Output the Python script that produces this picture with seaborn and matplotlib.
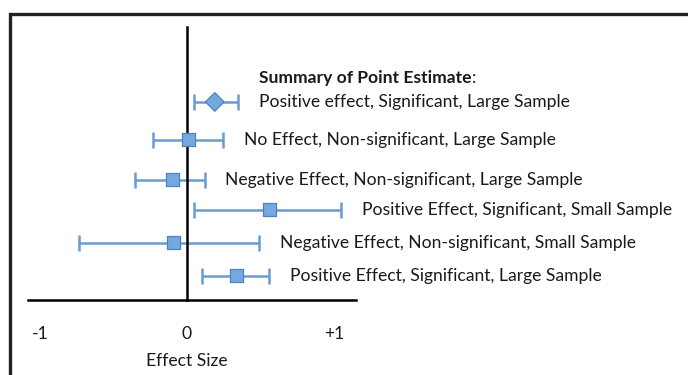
import matplotlib
matplotlib.use("Agg")
import matplotlib.pyplot as plt
import seaborn as sns
import pandas as pd
from matplotlib.patches import Rectangle

# Study summaries, listed top to bottom
labels = [
    "Positive effect, Significant, Large Sample",
    "No Effect, Non-significant, Large Sample",
    "Negative Effect, Non-significant, Large Sample",
    "Positive Effect, Significant, Small Sample",
    "Negative Effect, Non-significant, Small Sample",
    "Positive Effect, Significant, Large Sample",
]
estimate = [0.19, 0.01, -0.10, 0.56, -0.09, 0.34]
ci_low = [0.05, -0.23, -0.35, 0.05, -0.73, 0.10]
ci_high = [0.35, 0.245, 0.12, 1.05, 0.49, 0.56]
row_pos = [6.0, 4.85, 3.64, 2.73, 1.73, 0.73]
kind = ["summary", "study", "study", "study", "study", "study"]

tick_values = [-1, 0, 1]
tick_labels = ["-1", "0", "+1"]

df = pd.DataFrame({"label": labels, "est": estimate, "lo": ci_low,
                   "hi": ci_high, "row": row_pos, "kind": kind})

sns.set_theme(style="white")
plt.rcParams["font.family"] = ["Lato", "DejaVu Sans"]
FS = 12.6
TXT = "#1a1a1a"

fig = plt.figure(figsize=(6.88, 3.75), dpi=100)
ax = fig.add_axes([28 / 688, 0.2, 328 / 688, 273 / 375])

bar_color = "#6a9bd0"
face_color = "#74a9e0"
edge_color = "#4f81bd"

ax.errorbar(df["est"], df["row"],
            xerr=[df["est"] - df["lo"], df["hi"] - df["est"]],
            fmt="none", ecolor=bar_color, elinewidth=1.8, capsize=6,
            capthick=1.8, zorder=2)

sns.scatterplot(data=df, x="est", y="row", style="kind",
                markers={"summary": "D", "study": "s"},
                s=90, color=face_color, edgecolor=edge_color, linewidth=0.9,
                legend=False, ax=ax, zorder=3)

for _, r in df.iterrows():
    ax.annotate(r["label"], xy=(r["hi"], r["row"]), xytext=(15, 0),
                textcoords="offset points", va="center", ha="left",
                fontsize=FS, color=TXT, annotation_clip=False)

title = ax.annotate("Summary of Point Estimate", xy=(ci_high[0], row_pos[0]),
                    xytext=(15, 17.5), textcoords="offset points",
                    va="center", ha="left", fontsize=FS, fontweight="bold",
                    color=TXT, annotation_clip=False)

ax.set_xlim(-1.08, 1.15)
ax.set_ylim(0, 8.27)
ax.set_xticks(tick_values)
ax.set_xticklabels(tick_labels, fontsize=FS, color=TXT)
ax.set_yticks([])
ax.tick_params(axis="x", length=0, pad=19)
ax.set_xlabel("Effect Size", fontsize=FS, color=TXT, va="center")
ax.xaxis.set_label_coords((0 - (-1.08)) / (1.15 - (-1.08)), -0.225)
ax.set_ylabel("")

for side in ["top", "right"]:
    ax.spines[side].set_visible(False)
ax.spines["left"].set_position(("data", 0))
ax.spines["left"].set_linewidth(1.8)
ax.spines["left"].set_color("black")
ax.spines["bottom"].set_linewidth(1.8)
ax.spines["bottom"].set_color("black")

# regular-weight colon trailing the bold heading
fig.canvas.draw()
bb = title.get_window_extent()
fig.text(bb.x1 / fig.bbox.width, (bb.y0 + bb.y1) / 2 / fig.bbox.height, ":",
         fontsize=FS, color=TXT, va="center", ha="left")

# outer frame, open at the right and bottom
fig.patches.append(Rectangle((9.5 / 688, -0.1), 1.0, 1.1 - 13.5 / 375,
                             transform=fig.transFigure, fill=False,
                             edgecolor="#222222", linewidth=2.4))

fig.savefig("out.png", dpi=100)
